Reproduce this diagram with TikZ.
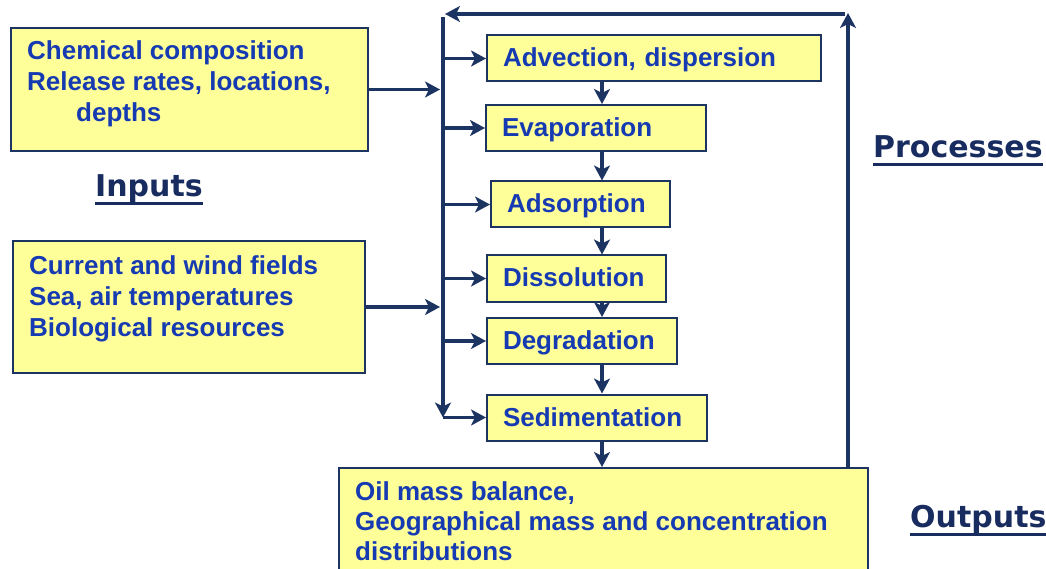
\documentclass[tikz,border=0pt]{standalone}
\usepackage{fontspec}
\setmainfont{Liberation Sans}
\newfontfamily\labfont{DejaVu Sans}
\usetikzlibrary{arrows.meta}
\definecolor{navy}{RGB}{28,52,98}
\definecolor{labnavy}{RGB}{24,44,96}
\definecolor{txtblue}{RGB}{22,58,178}
\definecolor{boxfill}{RGB}{255,255,153}
\newcommand\myul[1]{\setbox0\hbox{#1}\rlap{\rule[-8.5pt]{\wd0}{3pt}}\box0}
\begin{document}
\begin{tikzpicture}[x=1pt,y=-1pt,
  box/.style={draw=navy, line width=2pt, fill=boxfill, inner sep=0pt},
  txt/.style={text=txtblue, font=\fontsize{26}{31}\selectfont\bfseries, inner sep=0pt, align=left, anchor=north west},
  pbox/.style={box, text=txtblue, font=\fontsize{26}{31}\selectfont\bfseries, anchor=west, align=left,
     inner xsep=16pt, inner ysep=0pt, text height=20.5pt, text depth=3.5pt, minimum height=46pt},
  conn/.style={draw=navy, line width=3.4pt},
  arr/.style={conn, -{Stealth[length=15pt,width=16pt,inset=4pt]}},
  lab/.style={text=labnavy, font=\labfont\bfseries\fontsize{30}{36}\selectfont, inner sep=0pt, anchor=base west}]
\useasboundingbox (0,0) rectangle (1046,569);
\clip (0,0) rectangle (1046,569);
\fill[white] (0,0) rectangle (1046,569);

% input boxes
\node[box, minimum width=357pt, minimum height=123pt, anchor=north west] (in1) at (10,27) {};
\node[txt] (in1t) at (27,40) {Chemical composition\\Release rates, locations,\\\hspace*{49pt}depths};
\node[box, minimum width=352pt, minimum height=132pt, anchor=north west] (in2) at (12,240) {};
\node[txt] (in2t) at (29,255) {Current and wind fields\\Sea, air temperatures\\Biological resources};

% process boxes
\node[pbox, text width=302pt] (adv) at (486,58.5) {Advection, dispersion};
\node[pbox, text width=188pt] (evap) at (485,128) {Evaporation};
\node[pbox, text width=147pt] (ads) at (490,204.5) {Adsorption};
\node[pbox, text width=147pt] (diss) at (486,278.5) {Dissolution};
\node[pbox, text width=158pt] (deg) at (486,341) {Degradation};
\node[pbox, text width=188pt] (sed) at (486,417.5) {Sedimentation};

% output box
\node[box, minimum width=529pt, minimum height=140pt, anchor=north west] (out) at (338,467) {};
\node[txt, font=\fontsize{26}{30}\selectfont\bfseries] (outt) at (355,481) {Oil mass balance,\\Geographical mass and concentration\\distributions};

% labels
\node[lab] (inputs) at (95,197) {\myul{Inputs}};
\node[lab] (processes) at (873,158) {\myul{Processes}};
\node[lab] (outputs) at (910,527) {\myul{Outputs}};

% coordinates
\coordinate (bustop) at (443,17);
\coordinate (busbot) at (443,417.5);
\coordinate (cx) at (602,0);
\coordinate (rx) at (848,13);
\coordinate (topR) at (845,14);
\coordinate (topL) at (445,14);

% bus
\draw[arr] (bustop) -- (busbot);
\draw[arr] (busbot) -- (sed.west);
\foreach \n in {adv,evap,ads,diss,deg}{
  \draw[arr] (\n.west -| bustop) -- (\n.west);
}
% inputs to bus
\draw[arr, shorten >=3pt] (in1.east) -- (in1.east -| bustop);
\draw[arr, shorten >=3pt] (in2.east) -- (in2.east -| bustop);

% chain
\draw[arr] (adv.south -| cx) -- (evap.north -| cx);
\draw[arr] (evap.south -| cx) -- (ads.north -| cx);
\draw[arr] (ads.south -| cx) -- (diss.north -| cx);
\draw[arr] (diss.south -| cx) -- (deg.north -| cx);
\draw[arr] (deg.south -| cx) -- (sed.north -| cx);
\draw[arr] (sed.south -| cx) -- (out.north -| cx);

% feedback
\draw[arr] (out.north -| rx) -- (rx);
\draw[arr] (topR) -- (topL);
\end{tikzpicture}
\end{document}
